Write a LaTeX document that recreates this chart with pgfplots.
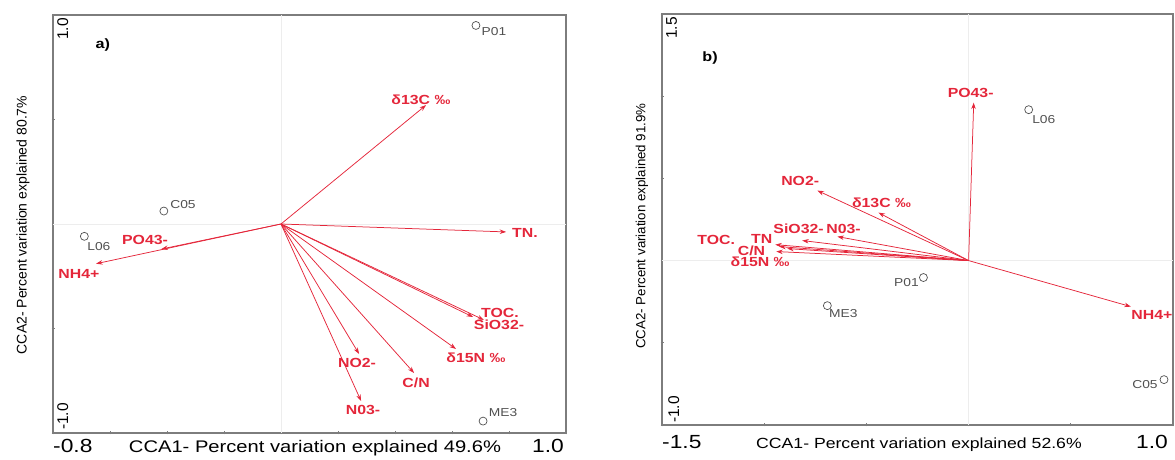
\documentclass[border=0pt]{standalone}
\usepackage{pgfplots}
\pgfplotsset{compat=1.18}
\usetikzlibrary{arrows.meta}
\usepackage{fontspec}
\setmainfont{Liberation Sans}[FakeStretch=1.2]
\newfontfamily\yfont{Liberation Sans}
\definecolor{arr}{RGB}{228,38,58}
\definecolor{site}{RGB}{80,80,80}
\definecolor{frame}{RGB}{125,125,125}

\pgfplotstableread{
x y
0.684 0.950
-0.411 0.062
-0.690 -0.059
0.709 -0.943
}\sitesA
\pgfplotstableread{
x y
0.294 0.918
-0.221 -0.103
-0.691 -0.274
0.956 -0.724
}\sitesB

\newcommand\arrow[2]{\addplot[arr, line width=0.75pt, -{Stealth[length=6.5pt,width=4.5pt]}] coordinates {(0,0) (#1,#2)};}
\newcommand\lab[3]{\node[text=arr, font=\bfseries\fontsize{13.2}{13.2}\selectfont, inner sep=0pt] at (axis cs:#1,#2) {#3};}
\newcommand\slab[3]{\node[text=site, font=\fontsize{11.5}{11.5}\selectfont, inner sep=0pt] at (axis cs:#1,#2) {#3};}

\pgfplotsset{ccastyle/.style={scale only axis, anchor=south west,
  axis line style={frame, line width=1.2pt},
  tick style={frame, line width=0.8pt}, major tick length=3pt, tick align=center,
  xtick pos=bottom, ytick pos=left, xticklabels={}, yticklabels={}, clip=false,
  extra x ticks={0}, extra y ticks={0}, extra x tick labels={}, extra y tick labels={},
  extra tick style={grid=major, major grid style={gray!14, line width=0.5pt}, tick style={draw=none}}}}

\begin{document}
\begin{tikzpicture}
\path[use as bounding box] (0,0) rectangle (1175pt,460pt);

% ---------- panel a ----------
\begin{axis}[ccastyle, at={(53pt,27pt)}, width=513pt, height=418pt,
  xmin=-0.8, xmax=1.0, ymin=-1, ymax=1,
  xtick={-0.8,-0.6,-0.4,-0.2,0,0.2,0.4,0.6,0.8,1.0}, ytick={-1,-0.5,0,0.5,1}]
\arrow{0.509}{0.569}
\arrow{0.790}{-0.038}
\arrow{0.674}{-0.445}
\arrow{0.712}{-0.459}
\arrow{0.614}{-0.598}
\arrow{0.467}{-0.713}
\arrow{0.274}{-0.622}
\arrow{0.281}{-0.847}
\arrow{-0.420}{-0.120}
\arrow{-0.649}{-0.190}
\addplot[only marks, mark=o, mark size=4pt, site, line width=0.7pt] table {\sitesA};
\lab{0.491}{0.593}{δ13C ‰}
\lab{0.856}{-0.043}{TN.}
\lab{0.768}{-0.426}{TOC.}
\lab{0.765}{-0.483}{SiO32-}
\lab{0.684}{-0.641}{δ15N ‰}
\lab{0.474}{-0.761}{C/N}
\lab{0.267}{-0.665}{NO2-}
\lab{0.288}{-0.890}{N03-}
\lab{-0.477}{-0.077}{PO43-}
\lab{-0.709}{-0.239}{NH4+}
\slab{0.747}{0.919}{P01}
\slab{-0.344}{0.091}{C05}
\slab{-0.639}{-0.110}{L06}
\slab{0.779}{-0.904}{ME3}
\node[font=\bfseries\fontsize{13.5}{13.5}\selectfont] at (axis cs:-0.625,0.856) {a)};
\end{axis}

% ---------- panel b ----------
\begin{axis}[ccastyle, at={(662pt,35pt)}, width=511pt, height=411pt,
  xmin=-1.5, xmax=1.0, ymin=-1, ymax=1.5,
  xtick={-1.5,-1,-0.5,0,0.5,1}, ytick={-1,-0.5,0,0.5,1,1.5}]
\arrow{0.025}{0.961}
\arrow{0.794}{-0.280}
\arrow{-0.740}{0.426}
\arrow{-0.441}{0.292}
\arrow{-0.814}{0.122}
\arrow{-0.642}{0.146}
\arrow{-0.946}{0.097}
\arrow{-0.926}{0.085}
\arrow{-0.887}{0.073}
\arrow{-0.941}{0.055}
\addplot[only marks, mark=o, mark size=4pt, site, line width=0.7pt] table {\sitesB};
\lab{0.010}{1.022}{PO43-}
\lab{0.897}{-0.328}{NH4+}
\lab{-0.824}{0.487}{NO2-}
\lab{-0.426}{0.353}{δ13C ‰}
\lab{-0.832}{0.192}{SiO32-}
\lab{-0.612}{0.195}{N03-}
\lab{-1.012}{0.132}{TN}
\lab{-1.235}{0.128}{TOC.}
\lab{-1.062}{0.061}{C/N}
\lab{-1.020}{-0.008}{δ15N ‰}
\slab{0.368}{0.858}{L06}
\slab{-0.304}{-0.134}{P01}
\slab{-0.613}{-0.322}{ME3}
\slab{0.863}{-0.754}{C05}
\node[font=\bfseries\fontsize{13.5}{13.5}\selectfont] at (axis cs:-1.265,1.235) {b)};
\end{axis}

% ---------- tick labels and axis titles ----------
\begin{scope}[font=\fontsize{19}{19}\selectfont, inner sep=0pt]
\node[anchor=base west] at (53pt,7pt) {-0.8};
\node[anchor=base east] at (564pt,7pt) {1.0};
\node[anchor=base west] at (662pt,11pt) {-1.5};
\node[anchor=base east] at (1168pt,11pt) {1.0};
\end{scope}
\node[anchor=base, inner sep=0pt, font=\fontsize{16.8}{16.8}\selectfont] at (315pt,7pt) {CCA1- Percent variation explained 49.6\%};
\node[anchor=base, inner sep=0pt, font=\fontsize{14.7}{14.7}\selectfont] at (919pt,11pt) {CCA1- Percent variation explained 52.6\%};
\node[rotate=90, inner sep=0pt, font=\yfont\fontsize{14}{14}\selectfont] at (23pt,235pt) {CCA2- Percent variation explained 80.7\%};
\node[rotate=90, inner sep=0pt, font=\yfont\fontsize{13.3}{13.3}\selectfont] at (642pt,234pt) {CCA2- Percent variation explained 91.9\%};
\begin{scope}[inner sep=0pt, font=\yfont\fontsize{15.5}{15.5}\selectfont]
\node[rotate=90, anchor=north east] at (57pt,442pt) {1.0};
\node[rotate=90, anchor=north west] at (57pt,30pt) {-1.0};
\node[rotate=90, anchor=north east] at (666pt,443pt) {1.5};
\node[rotate=90, anchor=north west] at (668pt,37pt) {-1.0};
\end{scope}
\end{tikzpicture}
\end{document}
